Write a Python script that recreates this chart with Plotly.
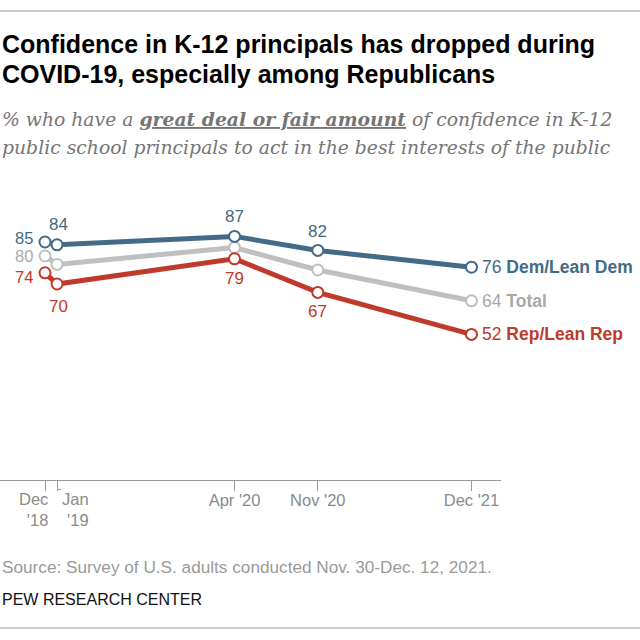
import plotly.graph_objects as go
import pandas as pd

# ---- data ----
dates = ["2018-12-01", "2019-01-01", "2020-04-01", "2020-11-01", "2021-12-01"]
dem = [85, 84, 87, 82, 76]
total = [80, 77, 83, 75, 64]
rep = [74, 70, 79, 67, 52]
series_names = ["Dem/Lean Dem", "Total", "Rep/Lean Rep"]
tick_labels = ["", "", "Apr '20", "Nov '20", "Dec '21"]
first_tick_labels = ["Dec<br>'18", "Jan<br>'19"]

title_lines = ["Confidence in K-12 principals has dropped during",
               "COVID-19, especially among Republicans"]
subtitle_lines = ["% who have a <b><u>great deal or fair amount</u></b> of confidence in K-12",
                  "public school principals to act in the best interests of the public"]
source_text = "Source: Survey of U.S. adults conducted Nov. 30-Dec. 12, 2021."
credit_text = "PEW RESEARCH CENTER"

# ---- style ----
DEM_C = "#436a87"
TOT_C = "#bfbfbf"
TOT_TXT = "#a8a8a8"
REP_C = "#bf3a2a"
SANS = "Liberation Sans, Arial, sans-serif"
SERIF = "DejaVu Serif, Georgia, serif"
W = H = 640

def px_y(py):
    return 1 - py / H

fig = go.Figure()
for vals, col in [(total, TOT_C), (rep, REP_C), (dem, DEM_C)]:
    fig.add_trace(go.Scatter(
        x=dates, y=vals, mode="lines+markers",
        line=dict(color=col, width=5),
        marker=dict(size=11, color="white", line=dict(color=col, width=2)),
        cliponaxis=False, showlegend=False, hoverinfo="skip"))

ann = []
def lab(x, y, text, color, xanchor="center", xshift=0, yshift=0, size=17):
    ann.append(dict(x=x, y=y, xref="x", yref="y", text=text, showarrow=False,
                    xanchor=xanchor, yanchor="middle", xshift=xshift, yshift=yshift,
                    borderpad=0,
                    font=dict(family=SANS, size=size, color=color)))

# Dem labels
lab(dates[0], dem[0], str(dem[0]), DEM_C, "right", -11, 4, 16.5)
lab(dates[1], dem[1], str(dem[1]), DEM_C, "center", 1, 20)
lab(dates[2], dem[2], str(dem[2]), DEM_C, "center", 0, 20)
lab(dates[3], dem[3], str(dem[3]), DEM_C, "center", 0, 19)
lab(dates[4], dem[4], f"{dem[4]} <b>{series_names[0]}</b>", DEM_C, "left", 9, 0, 17.5)
# Total labels
lab(dates[0], total[0], str(total[0]), TOT_TXT, "right", -11, 0, 16.5)
lab(dates[4], total[4], f"{total[4]} <b>{series_names[1]}</b>", TOT_TXT, "left", 9, 0, 17.5)
# Rep labels
lab(dates[0], rep[0], str(rep[0]), REP_C, "right", -11, -4, 16.5)
lab(dates[1], rep[1], str(rep[1]), REP_C, "center", 1, -22)
lab(dates[2], rep[2], str(rep[2]), REP_C, "center", 0, -20)
lab(dates[3], rep[3], str(rep[3]), REP_C, "center", 0, -19)
lab(dates[4], rep[4], f"{rep[4]} <b>{series_names[2]}</b>", REP_C, "left", 9, 0, 17.5)

# first two tick labels as annotations (offset to avoid overlap)
ann.append(dict(x=dates[0], y=px_y(509), xref="x", yref="paper", text=first_tick_labels[0],
                showarrow=False, xanchor="right", yanchor="middle", xshift=5, align="right",
                font=dict(family=SANS, size=16.5, color="#8a8a8a")))
ann.append(dict(x=dates[1], y=px_y(509), xref="x", yref="paper", text=first_tick_labels[1],
                showarrow=False, xanchor="left", yanchor="middle", xshift=3, align="right",
                font=dict(family=SANS, size=16.5, color="#8a8a8a")))

# titles
for txt, yc in zip(title_lines, [44, 74]):
    ann.append(dict(x=0, y=px_y(yc), xref="paper", yref="paper", text=f"<b>{txt}</b>",
                    showarrow=False, xanchor="left", yanchor="middle",
                    font=dict(family=SANS, size=25, color="#000000")))
for txt, yc in zip(subtitle_lines, [119, 148]):
    ann.append(dict(x=0, y=px_y(yc), xref="paper", yref="paper", text=txt,
                    showarrow=False, xanchor="left", yanchor="middle",
                    font=dict(family=SERIF, size=18.8, color="#757575", style="italic")))
ann.append(dict(x=0, y=px_y(567), xref="paper", yref="paper", text=source_text,
                showarrow=False, xanchor="left", yanchor="middle",
                font=dict(family=SANS, size=17.2, color="#9a9a9a")))
ann.append(dict(x=0, y=px_y(599), xref="paper", yref="paper", text=credit_text,
                showarrow=False, xanchor="left", yanchor="middle",
                font=dict(family=SANS, size=16, color="#111111")))

shapes = [
    dict(type="line", xref="paper", yref="paper", x0=0, x1=1, y0=px_y(11), y1=px_y(11),
         line=dict(color="#cccccc", width=2)),
    dict(type="line", xref="paper", yref="paper", x0=0, x1=1, y0=px_y(628), y1=px_y(628),
         line=dict(color="#cccccc", width=2)),
    # horizontal foot of the L-shaped Jan '19 tick
    dict(type="line", xref="x", yref="paper", xsizemode="pixel", xanchor=dates[1],
         x0=0, x1=4, y0=px_y(489.5), y1=px_y(489.5),
         line=dict(color="#999999", width=1)),
]

d0 = pd.Timestamp(dates[0])
d1 = pd.Timestamp(dates[-1])
ppd = (471.5 - 45) / (d1 - d0).days
x_range = [d0 - pd.Timedelta(days=45 / ppd), d1 + pd.Timedelta(days=(501 - 471.5) / ppd)]

fig.update_layout(
    width=W, height=H, autosize=False,
    margin=dict(l=0, r=0, t=0, b=0, pad=0),
    paper_bgcolor="white", plot_bgcolor="white",
    annotations=ann, shapes=shapes,
    xaxis=dict(domain=[0, 501 / W], range=x_range, type="date",
               tickvals=dates, ticktext=tick_labels,
               showline=True, linecolor="#999999", linewidth=1,
               ticks="outside", ticklen=10, tickcolor="#999999", tickwidth=1,
               tickfont=dict(family=SANS, size=16.5, color="#8a8a8a"),
               showgrid=False, zeroline=False, fixedrange=True),
    yaxis=dict(domain=[1 - 480 / H, 1 - 200 / H], range=[0, 100], visible=False,
               showgrid=False, zeroline=False, fixedrange=True),
)
try:
    fig.update_xaxes(ticklabelstandoff=-5)
except Exception:
    pass

fig.write_html("out.html", config={"displayModeBar": False},
               post_script="document.body.style.margin='0';document.body.style.padding='0';")
